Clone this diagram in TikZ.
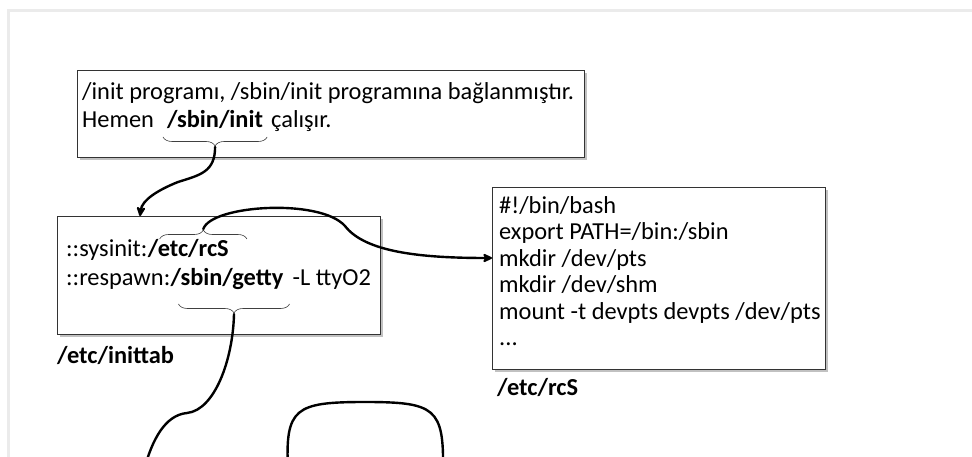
\documentclass[tikz,border=0pt]{standalone}
\usepackage{fontspec}
\setmainfont{Carlito}
\usetikzlibrary{arrows.meta,decorations.pathreplacing,shadows,calc}

\begin{document}
\begin{tikzpicture}[x=1pt,y=-1pt,
  panel/.style={draw=black!80, line width=0.9pt, fill=white,
    drop shadow={shadow xshift=2.5pt, shadow yshift=-3pt, opacity=0.35, fill=black!70}},
  txt/.style={font=\fontsize{24.4}{28}\selectfont, inner sep=0pt, anchor=base west},
  brc/.style={decorate, decoration={brace, amplitude=9pt, aspect=0.5}, draw=black!75, line width=0.6pt},
  link/.style={line width=2.4pt, line cap=round},
  tip/.style={-{Stealth[length=12pt,width=11pt,round]}},
  frame/.style={draw=black!8, line width=2.5pt},
]
\useasboundingbox (0,0) rectangle (972,457);
\clip (0,0) rectangle (972,457);

% page frame
\draw[frame] (8.5,457) -- (8.5,10.5) -- (972,10.5);

% first box: /init
\node[panel, anchor=north west, minimum width=507pt, minimum height=87pt, inner sep=0pt] (b1) at (77,70) {};
\node[txt] (t1a) at (82,100) {/init programı, /sbin/init programına bağlanmıştır.};
\node[txt] (hem) at (82,128) {Hemen};
\node[txt] (sbi) at (167,128) {\textbf{/sbin/init}};
\node[txt] (cal) at (271,128) {çalışır.};

% second box: /etc/inittab
\node[panel, anchor=north west, minimum width=323pt, minimum height=118pt, inner sep=0pt] (b2) at (57,216) {};
\node[txt] (sys) at (66,257) {::sysinit:};
\node[txt] (rcs) at (sys.base east) {\textbf{/etc/rcS}};
\node[txt] (res) at (66,285) {::respawn:};
\node[txt] (get) at (res.base east) {\textbf{/sbin/getty}};
\node[txt] (opt) at ($(get.base east)+(9,0)$) {-L ttyO2};
\node[txt] (lab2) at (57,363) {\textbf{/etc/inittab}};

% third box: /etc/rcS
\node[panel, anchor=north west, minimum width=333pt, minimum height=182pt, inner sep=0pt] (b3) at (492,187) {};
\node[txt, font=\fontsize{24.4}{26.5}\selectfont, align=left, anchor=north west, text depth=0pt] (t3) at (499,196)
  {\#!/bin/bash\\export PATH=/bin:/sbin\\mkdir /dev/pts\\mkdir /dev/shm\\mount -t devpts devpts /dev/pts\\...};
\node[txt] (lab3) at (497,395) {\textbf{/etc/rcS}};

% braces
\coordinate (s1) at ($(sbi.base west)+(-4,9)$);
\coordinate (s2) at ($(sbi.base east)+(4,9)$);
\draw[brc] (s2) -- (s1);
\coordinate (st) at ($(s1)!0.5!(s2)+(0,10)$);

\coordinate (r1) at ($(rcs.base west)+(12,-18)$);
\coordinate (r2) at ($(rcs.base east)+(18,-18)$);
\draw[brc] (r1) -- (r2);
\coordinate (rt) at ($(r1)!0.5!(r2)+(0,-10)$);

\coordinate (g1) at ($(get.base west)+(8,19)$);
\coordinate (g2) at ($(get.base east)+(6,19)$);
\draw[brc] (g2) -- (g1);
\coordinate (gt) at ($(g1)!0.5!(g2)+(0,10)$);

% connectors
\coordinate (b2in) at (140,216);
\draw[link, tip] (st) .. controls ($(st)+(0,25)$) and ($(st)+(-15,28)$) .. (178,182)
  .. controls (158,190) and (142,200) .. (b2in);

\coordinate (b3in) at (b3.west |- 0,258);
\draw[link, tip] (rt) .. controls ($(rt)+(8,-24)$) and (320,198) .. (345,226)
  .. controls (365,252) and (420,258) .. (b3in);

\coordinate (down1) at (144,470);
\draw[link] (gt) .. controls ($(gt)+(-1,45)$) and (215,410) .. (187,413)
  .. controls (165,415) and (152,440) .. (down1);

\coordinate (u1) at (288,470);
\coordinate (u2) at (443,470);
\draw[link] (u1) .. controls (285,408) and (295,402) .. (365,402)
  .. controls (435,402) and (444,408) .. (u2);
\end{tikzpicture}
\end{document}
